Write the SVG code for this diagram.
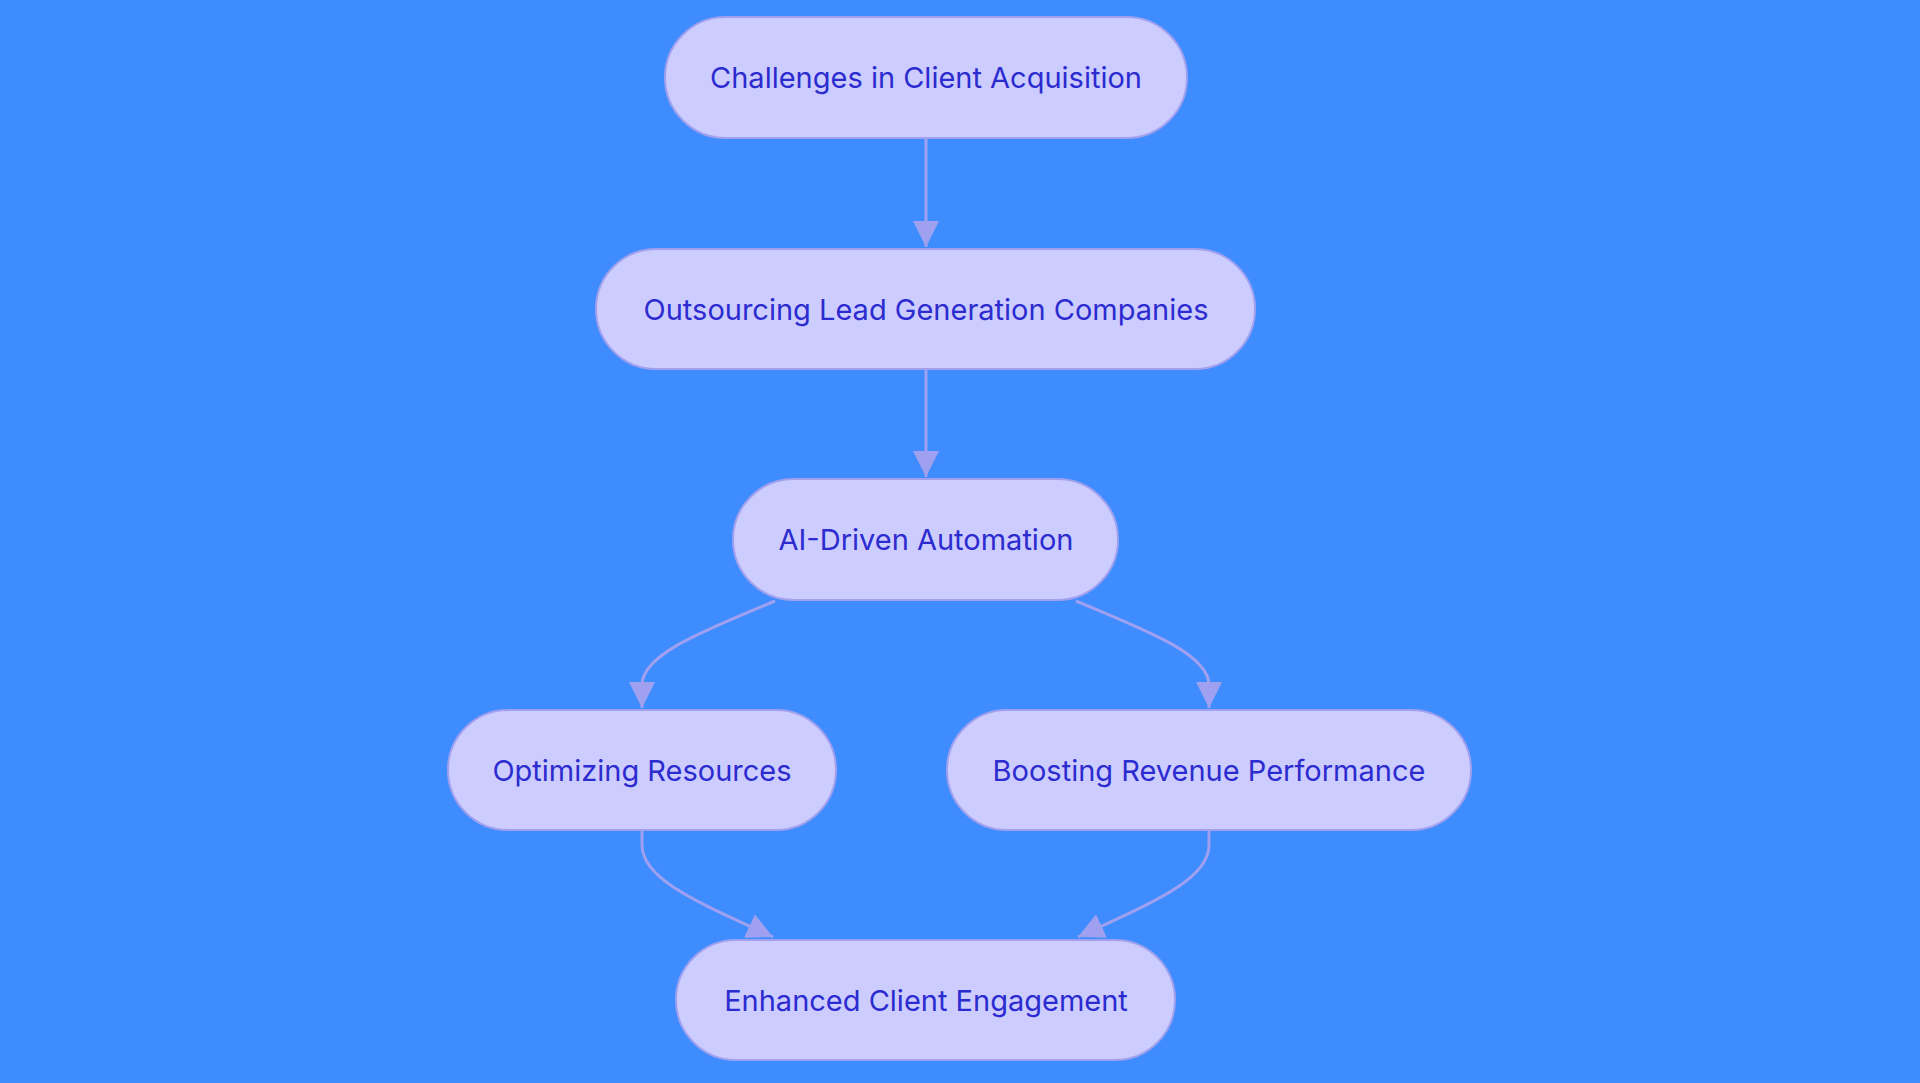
<svg xmlns="http://www.w3.org/2000/svg" width="1920" height="1083" viewBox="0 0 1920 1083">
<style>
.n rect{fill:#CCCCFF;stroke:#A0A0EE;stroke-width:2}
.n text{font-family:Inter,"Noto Sans",sans-serif;font-size:29px;fill:#2B2BCF;text-anchor:middle;dominant-baseline:central}
.e path{fill:none;stroke:#A0A0F0;stroke-width:3}
</style>
<defs><marker id="a" viewBox="0 0 10 10" refX="9" refY="5" markerWidth="9" markerHeight="9" markerUnits="userSpaceOnUse" orient="auto" style="overflow:visible"><path d="M0,0L10,5L0,10z" fill="#A0A0F0" transform="scale(2.6) translate(-6,-5) translate(6,5)"/></marker>
<marker id="m" viewBox="0 0 10 10" refX="10" refY="5" markerWidth="26" markerHeight="26" markerUnits="userSpaceOnUse" orient="auto"><path d="M0,0L10,5L0,10z" fill="#A0A0F0"/></marker></defs>
<rect width="1920" height="1083" fill="#3F8CFF"/>
<g class="e">
<path d="M926,139V247" marker-end="url(#m)"/>
<path d="M926,370V477" marker-end="url(#m)"/>
<path d="M775,601C700,632 642,655 642,685V708" marker-end="url(#m)"/>
<path d="M1076,601C1151,632 1209,655 1209,685V708" marker-end="url(#m)"/>
<path d="M642,831V845C642,880 700,903 773,937" marker-end="url(#m)"/>
<path d="M1209,831V845C1209,880 1151,903 1078,937" marker-end="url(#m)"/>
</g>
<g id="n1" class="n"><rect x="665" y="17" width="522" height="121" rx="60.5"/><text x="926" y="77">Challenges in Client Acquisition</text></g>
<g id="n2" class="n"><rect x="596" y="249" width="659" height="120" rx="60"/><text x="926" y="309">Outsourcing Lead Generation Companies</text></g>
<g id="n3" class="n"><rect x="733" y="479" width="385" height="121" rx="60.5"/><text x="926" y="539">AI-Driven Automation</text></g>
<g id="n4" class="n"><rect x="448" y="710" width="388" height="120" rx="60"/><text x="642" y="770">Optimizing Resources</text></g>
<g id="n5" class="n"><rect x="947" y="710" width="524" height="120" rx="60"/><text x="1209" y="770">Boosting Revenue Performance</text></g>
<g id="n6" class="n"><rect x="676" y="940" width="499" height="120" rx="60"/><text x="926" y="1000">Enhanced Client Engagement</text></g>
</svg>
